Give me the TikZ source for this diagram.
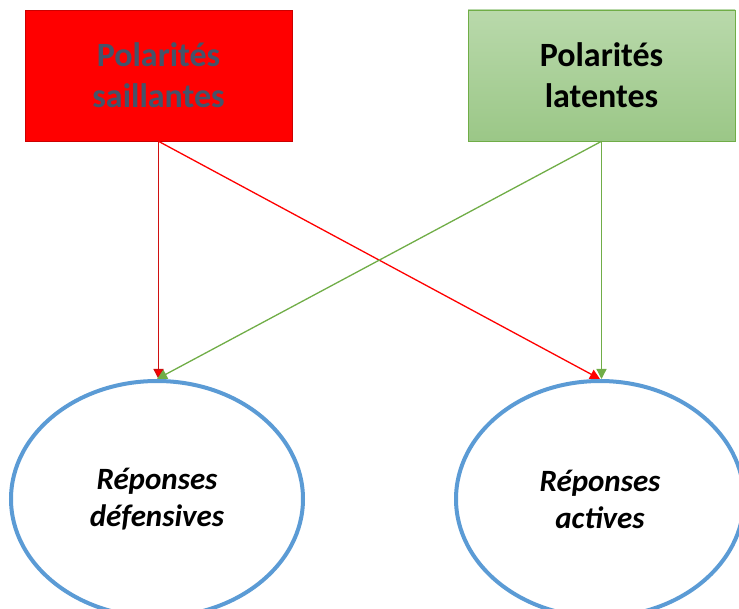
\documentclass[tikz,border=0pt]{standalone}
\usepackage{fontspec}
\setmainfont{Carlito}
\usetikzlibrary{arrows.meta,shapes.geometric}
\definecolor{boxtext}{HTML}{44546A}
\definecolor{ellblue}{HTML}{5B9BD5}
\definecolor{grline}{HTML}{70AD47}
\definecolor{grtop}{HTML}{B9D9AB}
\definecolor{grbot}{HTML}{9BC787}
\definecolor{darkred}{HTML}{D01010}
\begin{document}
\begin{tikzpicture}[x=1pt,y=1pt,
  boxstyle/.style={rectangle,minimum width=267pt,minimum height=131pt,inner sep=0pt,
     align=center,font=\fontsize{34}{41}\selectfont\bfseries},
  ellstyle/.style={ellipse,draw=ellblue,line width=4pt,fill=white,inner sep=0pt,
     align=center,font=\fontsize{31}{37}\selectfont\bfseries\itshape},
  conn/.style={line width=1.3pt,-{Triangle[length=10pt,width=10pt]}}]
\useasboundingbox (0,0) rectangle (739,608);
\begin{scope}
\clip (0,0) rectangle (739,608);
\node[boxstyle,fill=red,draw=red!80!black,line width=0.6pt,text=boxtext] (sail) at (158.5,532.5) {Polarités\\saillantes};
\node[boxstyle,top color=grtop,bottom color=grbot,draw=grline,line width=0.6pt,text=black] (lat) at (601.5,532.5) {Polarités\\latentes};
\node[ellstyle,minimum width=292pt,minimum height=236pt] (def) at (157,109) {Réponses\\défensives};
\node[ellstyle,minimum width=288pt,minimum height=236pt] (act) at (600,109) {Réponses\\actives};
\end{scope}
\draw[conn,darkred,-{Triangle[length=10pt,width=10pt,fill=red]}] (sail.south) -- (sail.south |- def.north);
\draw[conn,red] (sail.south) -- (act.north);
\draw[conn,grline] (lat.south) -- (def.north);
\draw[conn,grline] (lat.south) -- (lat.south |- act.north);
\end{tikzpicture}
\end{document}
